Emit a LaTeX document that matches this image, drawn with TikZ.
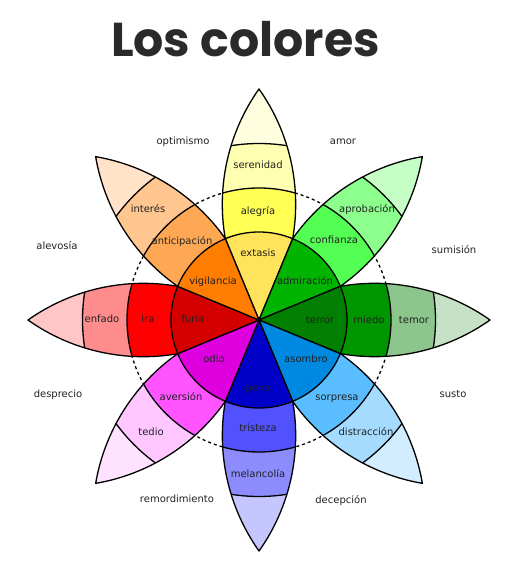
\documentclass[tikz,border=0pt]{standalone}
\usepackage{fontspec}
\setmainfont{DejaVu Sans}
\newfontfamily\titlefont{Poppins}
\definecolor{txt}{HTML}{222222}
\definecolor{ttl}{HTML}{2A2A2A}
% joy
\definecolor{yA}{HTML}{FFE35A}\definecolor{yB}{HTML}{FFFF54}\definecolor{yC}{HTML}{FFFFB1}\definecolor{yD}{HTML}{FFFFE0}
% trust
\definecolor{gA}{HTML}{00B400}\definecolor{gB}{HTML}{54FF54}\definecolor{gC}{HTML}{8CFF8C}\definecolor{gD}{HTML}{C6FFC6}
% fear
\definecolor{fA}{HTML}{007F00}\definecolor{fB}{HTML}{009600}\definecolor{fC}{HTML}{8CC68C}\definecolor{fD}{HTML}{C6E2C6}
% surprise
\definecolor{sA}{HTML}{0089E0}\definecolor{sB}{HTML}{59BDFF}\definecolor{sC}{HTML}{A5DBFF}\definecolor{sD}{HTML}{D2EDFF}
% sadness
\definecolor{bA}{HTML}{0000C8}\definecolor{bB}{HTML}{5151FF}\definecolor{bC}{HTML}{8C8CFF}\definecolor{bD}{HTML}{C6C6FF}
% disgust
\definecolor{mA}{HTML}{DE00DE}\definecolor{mB}{HTML}{FF54FF}\definecolor{mC}{HTML}{FFC6FF}\definecolor{mD}{HTML}{FFE2FF}
% anger
\definecolor{rA}{HTML}{D40000}\definecolor{rB}{HTML}{FF0000}\definecolor{rC}{HTML}{FF8C8C}\definecolor{rD}{HTML}{FFC6C6}
% anticipation
\definecolor{oA}{HTML}{FF7D00}\definecolor{oB}{HTML}{FFA854}\definecolor{oC}{HTML}{FFC690}\definecolor{oD}{HTML}{FFE2C8}

\newcommand{\petal}[5]{%
 \begin{scope}[shift={(259,254)},rotate=#1]
  \begin{scope}
   \clip (0,0) -- (-22.5:88) arc[start angle=-99.93,end angle=-54.71,radius=199.6] arc[start angle=54.71,end angle=99.93,radius=199.6] -- cycle;
   \fill[#5] (0,0) circle[radius=240];
   \fill[#4] (0,0) circle[radius=176.5];
   \fill[#3] (0,0) circle[radius=132];
   \fill[#2] (0,0) circle[radius=88];
   \draw[ringline] (0,0) circle[radius=176.5] (0,0) circle[radius=132] (0,0) circle[radius=88];
  \end{scope}
  \draw[ringline] (0,0) -- (-22.5:88) arc[start angle=-99.93,end angle=-54.71,radius=199.6] arc[start angle=54.71,end angle=99.93,radius=199.6] -- cycle;
 \end{scope}}

\tikzset{
 ringline/.style={draw=black,line width=1.3pt,line join=round},
 emo/.style={font=\fontsize{10}{12}\selectfont,text=txt,inner sep=0pt,anchor=base},
}
\newcommand{\lab}[4]{\node[emo] (#1) at (#2,{574-#3-3.3}) {#4};}

\begin{document}
\begin{tikzpicture}[x=1pt,y=1pt]
\fill[white] (0,0) rectangle (529,574);
\useasboundingbox (0,0) rectangle (529,574);

\node[font=\titlefont\bfseries\fontsize{47.5}{52}\selectfont,text=ttl,anchor=base,inner sep=0pt] (title) at (245.5,517) {Los colores};

\draw[black,line width=1.3pt,dash pattern=on 3pt off 3pt] (259,254) circle[radius=132];

\petal{90}{yA}{yB}{yC}{yD}
\petal{45}{gA}{gB}{gC}{gD}
\petal{0}{fA}{fB}{fC}{fD}
\petal{-45}{sA}{sB}{sC}{sD}
\petal{-90}{bA}{bB}{bC}{bD}
\petal{-135}{mA}{mB}{mC}{mD}
\petal{180}{rA}{rB}{rC}{rD}
\petal{135}{oA}{oB}{oC}{oD}

% petal labels
\lab{l1}{258}{165}{serenidad}
\lab{l2}{258}{211}{alegría}
\lab{l3}{258}{253}{extasis}
\lab{l4}{367}{209}{aprobación}
\lab{l5}{334}{240}{confianza}
\lab{l6}{305}{281}{admiración}
\lab{l7}{414}{320}{temor}
\lab{l8}{369}{320}{miedo}
\lab{l9}{320}{320}{terror}
\lab{l10}{366}{432}{distracción}
\lab{l11}{337}{397}{sorpresa}
\lab{l12}{306}{359}{asombro}
\lab{l13}{258}{474}{melancolía}
\lab{l14}{258}{428}{tristeza}
\lab{l15}{258}{388}{pena}
\lab{l16}{151}{432}{tedio}
\lab{l17}{181}{397}{aversión}
\lab{l18}{214}{359}{odio}
\lab{l19}{102}{319}{enfado}
\lab{l20}{148}{319}{ira}
\lab{l21}{193}{319}{furia}
\lab{l22}{148}{209}{interés}
\lab{l23}{182}{241}{anticipación}
\lab{l24}{213}{281}{vigilancia}

% dyads
\lab{d1}{183}{141}{optimismo}
\lab{d2}{343}{141}{amor}
\lab{d3}{454}{250}{sumisión}
\lab{d4}{453}{394}{susto}
\lab{d5}{341}{500}{decepción}
\lab{d6}{177}{499}{remordimiento}
\lab{d7}{58}{394}{desprecio}
\lab{d8}{57}{246}{alevosía}
\end{tikzpicture}
\end{document}
